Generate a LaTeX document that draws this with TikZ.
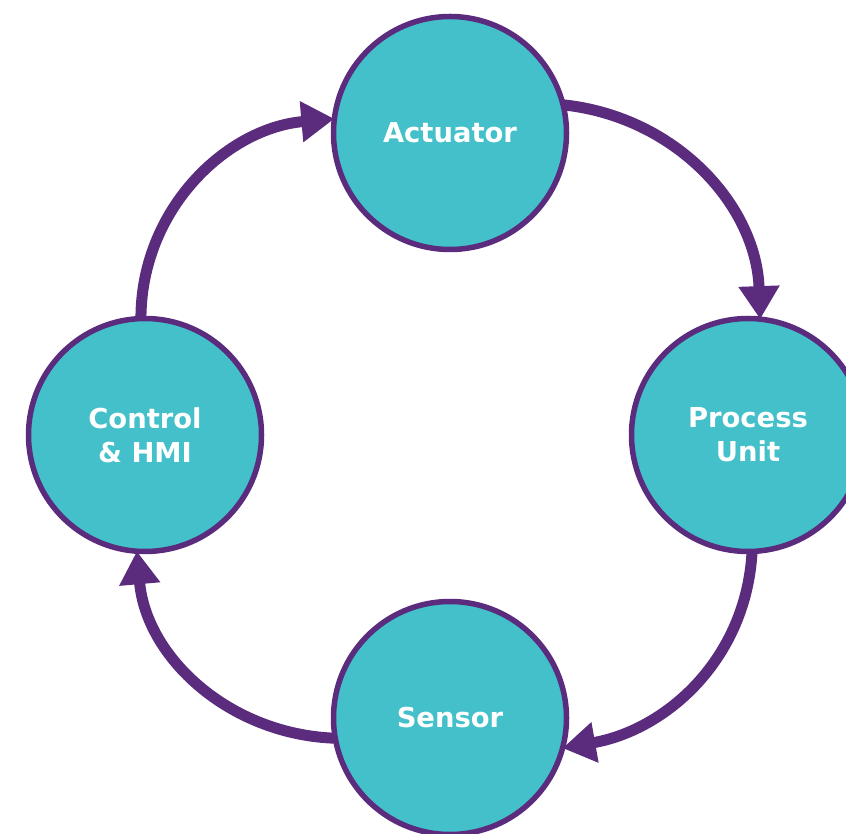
\documentclass[tikz,border=0pt]{standalone}
\usepackage{fontspec}
\setmainfont{DejaVu Sans}
\usetikzlibrary{arrows.meta}
\definecolor{tealfill}{RGB}{67,192,201}
\definecolor{loopviolet}{RGB}{91,44,125}
\tikzset{
  x=1pt,y=1pt,
  stage/.style={circle,draw=loopviolet,line width=5.5pt,fill=tealfill,
    minimum size=233pt,inner sep=0pt,outer sep=0pt,text=white,align=center,
    font=\fontsize{27.4}{34}\selectfont\bfseries},
  flow/.style={draw=loopviolet,line width=11pt,
    -{Triangle[length=33pt,width=39pt]}}
}
\begin{document}
\begin{tikzpicture}
\useasboundingbox (0,0) rectangle (846,833);
\clip (0,0) rectangle (846,833);
\fill[white] (0,0) rectangle (846,833);
\node[stage] (act) at (450,700) {Actuator};
\node[stage] (proc) at (748,398) {Process\\Unit};
\node[stage] (sens) at (450,115) {Sensor};
\node[stage] (ctrl) at (145,398) {Control\\\& HMI};
\draw[flow] (act.14) to[out=-6,in=92] (proc.84);
\draw[flow] (proc.-88) to[out=-93,in=10] (sens.-15);
\draw[flow] (sens.190) to[out=178,in=-85] (ctrl.-94);
\draw[flow] (ctrl.92) to[out=90,in=185] (act.173);
\end{tikzpicture}
\end{document}
